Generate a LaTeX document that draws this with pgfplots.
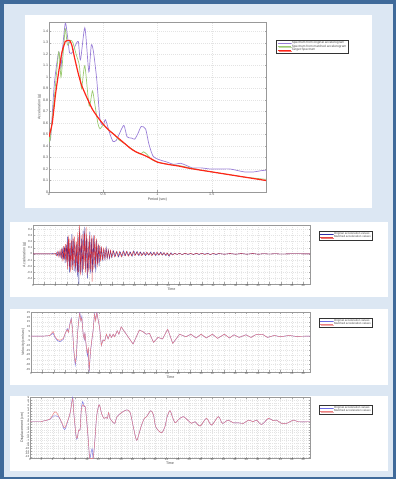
\documentclass[border=0pt]{standalone}
\usepackage{pgfplots}
\pgfplotsset{compat=1.18}
\usepackage{fontspec}
\setmainfont{Liberation Sans}
\usetikzlibrary{shadows}
\definecolor{frameblue}{HTML}{3F6A9A}
\definecolor{bgblue}{HTML}{DCE7F3}
\definecolor{origpurple}{HTML}{9A7FD8}
\definecolor{matchgreen}{HTML}{9CCB72}
\definecolor{targetred}{HTML}{FF2418}
\definecolor{thblue}{HTML}{3030A8}
\definecolor{thred}{HTML}{E02424}
\definecolor{thlblue}{HTML}{6C6CE6}
\definecolor{thlred}{HTML}{EE8080}
\pgfplotsset{
  mybase/.style={
    scale only axis, anchor=south west,
    axis line style={gray!80},
    tick style={gray!70, line width=0.3pt},
    major tick length=1.5pt, minor tick length=0pt,
    grid=major,
    major grid style={dashed, dash pattern=on 1pt off 1pt, gray!22, line width=0.3pt},
    minor grid style={dashed, dash pattern=on 1pt off 1pt, gray!14, line width=0.3pt},
    /pgf/number format/assume math mode=true,
    tick label style={font=\fontsize{3.4}{3.6}\selectfont, text=black!70, inner sep=0.6pt},
    label style={font=\fontsize{3.6}{4}\selectfont, text=black!70},
    legend cell align=left,
    legend image code/.code={\draw[#1] (0pt,0pt) -- (13pt,0pt);},
    legend style={draw=black!80, fill=white, line width=0.3pt,
      drop shadow={shadow xshift=0.8pt, shadow yshift=-0.8pt, opacity=0.6},
      font=\fontsize{3.1}{3.3}\selectfont, text=black!70,
      inner xsep=1pt, inner ysep=0.4pt, row sep=-1pt,
      nodes={inner sep=0.5pt}, anchor=north west},
  },
  thbase/.style={
    mybase, xmin=0, xmax=49.2, xtick={0,2,...,48}, minor x tick num=1,
    grid=both,
    xlabel={Time}, xlabel style={yshift=3pt},
    ylabel style={yshift=-3pt},
    tick label style={font=\fontsize{2.9}{3}\selectfont},
    legend style={font=\fontsize{2.9}{3.1}\selectfont},
  }
}
\begin{document}
\begin{tikzpicture}
\fill[frameblue] (0,0) rectangle (396pt,479pt);
\fill[bgblue] (4pt,2pt) rectangle (393pt,475pt);
\fill[white] (25pt,271pt) rectangle (372pt,464pt);
\fill[white] (10pt,182pt) rectangle (388pt,257pt);
\fill[white] (10pt,94pt) rectangle (388pt,170pt);
\fill[white] (10pt,8pt) rectangle (388pt,83pt);

% ---------------- Spectrum ----------------
\begin{axis}[mybase, at={(49pt,287pt)}, width=217pt, height=170pt,
  xmin=0, xmax=2, ymin=0, ymax=1.48,
  xtick={0,0.5,1,1.5}, ytick={0,0.1,...,1.41},
  xlabel={Period (sec)}, ylabel={Acceleration (g)},
  xlabel style={yshift=2pt}, ylabel style={yshift=-2pt},
  tick label style={font=\fontsize{3.6}{3.8}\selectfont},
  legend style={at={(1.046,0.894)}, font=\fontsize{3.2}{3.4}\selectfont}]
\addplot[origpurple, line width=0.7pt, smooth, tension=0.4] coordinates {
(0,0.48)(0.015,0.47)(0.05,0.95)(0.09,1.22)(0.11,1.08)(0.12,1.20)(0.15,1.47)
(0.17,1.36)(0.19,1.21)(0.22,1.22)(0.24,1.27)(0.27,1.31)(0.29,1.15)(0.33,1.43)
(0.36,1.11)(0.37,1.05)(0.39,1.28)(0.41,1.22)(0.44,0.98)(0.47,0.63)(0.50,0.58)
(0.52,0.63)(0.56,0.51)(0.59,0.44)(0.62,0.45)(0.65,0.51)(0.69,0.58)(0.72,0.48)
(0.76,0.47)(0.79,0.46)(0.82,0.51)(0.85,0.57)(0.89,0.55)(0.92,0.42)(0.96,0.31)
(1.02,0.28)(1.09,0.26)(1.15,0.24)(1.21,0.25)(1.27,0.23)(1.32,0.21)(1.40,0.21)
(1.49,0.20)(1.58,0.20)(1.67,0.20)(1.80,0.175)(1.89,0.175)(1.95,0.185)(2.0,0.19)};
\addlegendentry{Spectrum from original accelerogram}
\addplot[matchgreen, line width=0.7pt, smooth, tension=0.4] coordinates {
(0,0.50)(0.01,0.45)(0.05,0.83)(0.09,1.22)(0.11,1.00)(0.13,1.20)(0.15,1.42)
(0.17,1.28)(0.20,1.32)(0.22,1.30)(0.25,1.20)(0.28,1.10)(0.30,0.90)(0.33,1.10)
(0.37,0.75)(0.40,0.88)(0.42,0.78)(0.45,0.60)(0.47,0.55)(0.50,0.58)(0.55,0.54)
(0.60,0.50)(0.65,0.45)(0.70,0.42)(0.77,0.37)(0.84,0.33)(0.87,0.35)(0.90,0.33)
(0.95,0.28)(1.0,0.26)(1.1,0.24)(1.2,0.23)(1.3,0.21)(1.4,0.19)(1.5,0.175)
(1.6,0.16)(1.7,0.145)(1.8,0.13)(1.9,0.12)(2.0,0.11)};
\addlegendentry{Spectrum from matched accelerogram}
\addplot[targetred, line width=1.2pt, smooth, tension=0.3] coordinates {
(0,0.48)(0.03,0.60)(0.06,0.85)(0.09,1.05)(0.12,1.22)(0.15,1.31)(0.17,1.32)
(0.19,1.32)(0.21,1.28)(0.24,1.15)(0.27,1.03)(0.30,0.93)(0.35,0.82)(0.40,0.72)
(0.45,0.65)(0.50,0.59)(0.55,0.54)(0.60,0.50)(0.65,0.46)(0.70,0.42)(0.75,0.38)
(0.80,0.35)(0.90,0.31)(1.0,0.26)(1.1,0.24)(1.2,0.225)(1.3,0.205)(1.4,0.19)
(1.5,0.175)(1.6,0.16)(1.7,0.145)(1.8,0.13)(1.9,0.115)(2.0,0.10)};
\addlegendentry{Target Spectrum}
\end{axis}

% ---------------- Acceleration ----------------
\begin{axis}[thbase, at={(33pt,195pt)}, width=277pt, height=59pt,
  ymin=-0.49, ymax=0.47, ytick={-0.4,-0.3,...,0.41},
  ylabel={Acceleration (g)},
  legend style={at={(1.0325,0.898)}}]
\addplot[thblue, line width=0.35pt] coordinates {
(0,0)(3,0)(3.5,0.005)(4,-0.005)(4.2,0.02)(4.4,-0.03)(4.6,0.04)(4.8,-0.05)(5.0,0.06)
(5.1,-0.08)(5.3,0.10)(5.4,-0.09)(5.6,0.12)(5.7,-0.15)(5.9,0.14)(6.0,-0.12)(6.1,0.28)
(6.2,-0.2)(6.35,0.22)(6.5,-0.3)(6.6,0.18)(6.75,-0.25)(6.9,0.32)(7.0,-0.18)(7.15,0.25)
(7.3,-0.28)(7.45,0.2)(7.6,-0.3)(7.75,0.15)(7.9,-0.38)(8.0,0.3)(8.15,-0.49)(8.3,0.42)
(8.45,-0.3)(8.6,0.25)(8.75,-0.35)(8.9,0.38)(9.05,-0.2)(9.2,0.44)(9.35,-0.25)(9.5,0.3)
(9.65,-0.4)(9.8,0.2)(9.95,-0.28)(10.1,0.36)(10.25,-0.32)(10.4,0.25)(10.55,-0.3)
(10.7,0.3)(10.85,-0.22)(11.0,0.2)(11.15,-0.3)(11.3,0.22)(11.45,-0.18)(11.6,0.15)
(11.75,-0.2)(11.9,0.12)(12.05,-0.1)(12.2,0.1)(12.4,-0.12)(12.6,0.08)(12.8,-0.09)
(13.0,0.1)(13.2,-0.07)(13.4,0.06)(13.6,-0.08)(13.8,0.05)(14.0,-0.06)(14.3,0.05)
(14.6,-0.04)(14.9,0.04)(15.2,-0.05)(15.5,0.03)(15.8,-0.04)(16.1,0.05)(16.4,-0.03)
(16.7,0.04)(17.0,-0.03)(17.3,0.03)(17.6,-0.04)(17.9,0.05)(18.2,-0.02)(18.5,0.04)
(18.8,-0.03)(19.1,0.03)(19.4,-0.02)(19.7,0.03)(20.0,-0.03)(20.3,0.02)(20.6,-0.02)
(20.9,0.03)(21.2,-0.02)(21.5,0.03)(21.8,-0.03)(22.1,0.02)(22.4,-0.02)(22.7,0.03)
(23.0,-0.02)(23.3,0.02)(23.6,-0.03)(23.9,0.01)(24.2,-0.04)(24.5,0.02)(24.8,-0.01)
(25.2,0.01)(25.6,-0.01)(26,0.01)(26.5,-0.01)(27,0.01)(27.5,-0.01)(28,0.005)
(28.5,-0.01)(29,0.01)(29.5,-0.01)(30,0.01)(30.5,-0.005)(31,0.01)(31.5,-0.01)
(32,0.005)(32.5,-0.01)(33,0.005)(34,-0.005)(35,0.005)(36,-0.005)(37,0.005)
(38,-0.005)(39,0.005)(40,-0.005)(41,0.003)(42,-0.003)(43,0.003)(44,-0.003)(46,0.002)(49.2,0)};
\addlegendentry{Original acceleration values}
\addplot[thred, line width=0.35pt, opacity=0.85] coordinates {
(0,0)(3,0)(3.5,-0.005)(4,0.01)(4.2,-0.03)(4.4,0.04)(4.6,-0.05)(4.8,0.06)(5.0,-0.07)
(5.1,0.09)(5.3,-0.12)(5.45,0.13)(5.6,-0.1)(5.75,0.16)(5.9,-0.14)(6.05,0.2)(6.15,-0.25)
(6.3,0.3)(6.45,-0.22)(6.55,0.25)(6.7,-0.3)(6.85,0.22)(7.0,-0.26)(7.1,0.3)(7.25,-0.2)
(7.4,0.28)(7.55,-0.25)(7.7,0.2)(7.85,-0.3)(7.95,0.35)(8.1,-0.3)(8.25,0.47)(8.4,-0.35)
(8.55,0.3)(8.7,-0.3)(8.85,0.32)(9.0,-0.25)(9.15,0.38)(9.3,-0.3)(9.45,0.44)(9.6,-0.35)
(9.75,0.25)(9.9,-0.3)(10.05,0.3)(10.2,-0.25)(10.35,0.3)(10.5,-0.45)(10.65,0.28)
(10.8,-0.25)(10.95,0.3)(11.1,-0.2)(11.25,0.25)(11.4,-0.22)(11.55,0.18)(11.7,-0.15)
(11.85,0.14)(12.0,-0.12)(12.15,0.12)(12.35,-0.1)(12.55,0.1)(12.75,-0.08)(12.95,0.09)
(13.15,-0.08)(13.35,0.07)(13.55,-0.06)(13.75,0.06)(13.95,-0.05)(14.2,0.05)(14.5,-0.05)
(14.8,0.04)(15.1,-0.04)(15.4,0.04)(15.7,-0.05)(16.0,0.04)(16.3,-0.03)(16.6,0.04)
(16.9,-0.04)(17.2,0.03)(17.5,-0.03)(17.8,0.04)(18.1,-0.03)(18.4,0.03)(18.7,-0.02)
(19.0,0.03)(19.3,-0.03)(19.6,0.02)(19.9,-0.02)(20.2,0.03)(20.5,-0.02)(20.8,0.02)
(21.1,-0.03)(21.4,0.02)(21.7,-0.02)(22.0,0.03)(22.3,-0.02)(22.6,0.02)(22.9,-0.02)
(23.2,0.02)(23.5,-0.02)(23.8,0.02)(24.1,-0.03)(24.4,0.01)(24.8,-0.02)(25.2,0.01)
(25.6,-0.01)(26,0.01)(26.5,-0.01)(27,0.01)(27.5,-0.005)(28,0.01)(28.5,-0.01)(29,0.01)
(29.5,-0.005)(30,0.01)(30.5,-0.01)(31,0.005)(31.5,-0.01)(32,0.01)(32.5,-0.005)
(33,0.005)(34,-0.005)(35,0.005)(36,-0.005)(37,0.005)(38,-0.005)(39,0.005)(40,-0.005)
(41,0.003)(42,-0.003)(43,0.003)(44,-0.003)(46,0.002)(49.2,0)};
\addlegendentry{Matched acceleration values}
\end{axis}

% ---------------- Velocity ----------------
\begin{axis}[thbase, at={(31pt,107pt)}, width=279pt, height=60pt,
  ymin=-38, ymax=25.5, ytick={-35,-30,...,25},
  ylabel={Velocity (cm/sec)},
  legend style={at={(1.032,0.9)}}]
\addplot[thlblue, line width=0.4pt] coordinates {
(0,0)(2.2,0)(3.3,0.5)(3.9,3)(4.2,-1)(4.6,-4.5)(5.1,-6)(5.7,-3.5)(6.0,2)(6.4,8)
(6.6,4)(6.85,13)(7.1,19)(7.3,9)(7.55,-16)(7.8,-31)(8.0,-23)(8.2,2)(8.4,17)(8.6,26)
(8.8,16)(8.96,21)(9.2,2)(9.4,-4)(9.5,4)(9.8,-15)(9.95,-21)(10.1,-13)(10.25,-39)
(10.5,-16)(10.7,-6)(10.95,6)(11.2,24)(11.4,17)(11.6,26)(11.8,19)(12.1,9)(12.4,-10)
(12.7,-4)(13.0,-5)(13.3,2)(13.6,-3)(13.9,2)(14.2,-1.4)(14.5,2)(14.75,-0.7)(15.2,5.6)
(15.5,2)(15.9,9.8)(16.8,2)(18.0,-8.4)(19.1,6.3)(19.7,4.9)(20.3,2)(20.9,2.8)(21.6,-6.6)
(22.4,-1.4)(23.2,-3)(24.1,7.3)(25.0,-7.7)(26.2,2)(27.3,-0.7)(28.2,2)(29.1,-2)(30.0,2)
(30.9,-2)(32.0,2)(32.9,-2.4)(34.1,2)(35.0,-2)(35.8,1.4)(36.7,-1.4)(37.9,1.4)(38.8,-1.4)
(39.6,1.4)(40.8,2)(41.7,-1.4)(42.9,0.7)(44.0,-0.7)(45.5,0.7)(46.7,-0.3)(49.2,0)};
\addlegendentry{Original acceleration values}
\addplot[thlred, line width=0.45pt] coordinates {
(0,0)(2.2,0)(3.3,0.5)(3.9,5)(4.2,0)(4.6,-3.5)(5.1,-4.5)(5.7,-2.5)(6.0,2.5)(6.4,7)
(6.6,4)(6.85,12)(7.1,18)(7.3,9)(7.55,-14)(7.8,-28)(8.0,-21)(8.2,2)(8.4,15)(8.6,24)
(8.8,16)(8.96,19)(9.2,2)(9.4,-3)(9.5,3.8)(9.8,-13)(9.95,-18)(10.1,-12)(10.25,-37)
(10.5,-15)(10.7,-5)(10.95,5.6)(11.2,23)(11.4,16)(11.6,25)(11.8,18)(12.1,9)(12.4,-10)
(12.7,-4)(13.0,-5)(13.3,2)(13.6,-3)(13.9,2)(14.2,-1.4)(14.5,2)(14.75,-0.7)(15.2,5.6)
(15.5,2)(15.9,9.8)(16.8,2)(18.0,-8.4)(19.1,6.3)(19.7,4.9)(20.3,2)(20.9,2.8)(21.6,-6.6)
(22.4,-1.4)(23.2,-3)(24.1,7.3)(25.0,-7.7)(26.2,2)(27.3,-0.7)(28.2,2)(29.1,-2)(30.0,2)
(30.9,-2)(32.0,2)(32.9,-2.4)(34.1,2)(35.0,-2)(35.8,1.4)(36.7,-1.4)(37.9,1.4)(38.8,-1.4)
(39.6,1.4)(40.8,2)(41.7,-1.4)(42.9,0.7)(44.0,-0.7)(45.5,0.7)(46.7,-0.3)(49.2,0)};
\addlegendentry{Matched acceleration values}
\end{axis}

% ---------------- Displacement ----------------
\begin{axis}[thbase, at={(30pt,21pt)}, width=280pt, height=61pt,
  ymin=-13.5, ymax=9.2, ytick={-13,-12,...,9},
  ylabel={Displacement (cm)},
  legend style={at={(1.032,0.869)}}]
\addplot[thlblue, line width=0.4pt, smooth, tension=0.5] coordinates {
(0,0)(2.0,0)(2.3,0.25)(3.5,0.9)(4.1,2.1)(5.0,1.9)(5.6,-0.6)(6.1,-2.9)(6.7,0.6)
(7.1,3.75)(7.5,9.1)(7.7,3.1)(8.1,-5.6)(8.3,-6.25)(8.55,-3.1)(8.8,-2.9)(9.0,4.4)
(9.25,7.5)(9.5,5.6)(9.7,5.6)(9.95,0.6)(10.25,-6.9)(10.5,-13.6)(10.9,-10)(11.1,-13.6)
(11.4,-6.9)(11.7,1.9)(12.1,6.25)(12.3,5.6)(12.6,2.9)(13.0,1.25)(13.35,1.6)(13.6,1.25)
(13.8,3.4)(14.05,1.25)(14.5,0)(14.9,-0.6)(15.3,1.9)(16.1,3.4)(17.0,4.4)(17.6,3.4)
(18.15,-1.9)(18.7,-6.9)(19.0,-5.6)(19.6,-1.25)(20.1,1.25)(20.5,1.9)(21.2,4.1)(21.7,2.5)
(22.1,-1.9)(23.1,-4.1)(23.7,-1.9)(24.1,1.9)(24.6,4.1)(25.0,1.9)(25.5,-0.4)(26.0,0.6)
(26.9,1.9)(27.8,0.4)(28.4,-0.6)(29.0,0)(29.9,-1.6)(31.0,1.25)(31.9,-1.25)(33.1,1.9)
(33.8,-0.6)(34.8,0.6)(35.7,-0.4)(36.6,-0.4)(37.5,-0.6)(38.4,0.6)(39.2,0)(39.8,0.6)
(40.7,-1)(41.9,1.25)(42.7,0.4)(43.3,0.6)(44.2,-0.6)(45.1,-0.6)(46.3,0.6)(47.1,0)(49.2,0)};
\addlegendentry{Original acceleration values}
\addplot[thlred, line width=0.45pt, smooth, tension=0.5] coordinates {
(0,0)(2.0,0)(2.3,0.25)(3.5,1.0)(4.4,3.75)(5.0,2.2)(5.6,-0.4)(6.1,-2.2)(6.7,0.8)
(7.1,3.75)(7.5,8.5)(7.7,3.1)(8.1,-5.2)(8.3,-6.0)(8.55,-3.1)(8.8,-2.9)(9.0,4.0)
(9.25,6.25)(9.5,5.8)(9.7,5.6)(9.95,0.6)(10.25,-6.9)(10.5,-13.6)(10.9,-13.6)(11.1,-13.6)
(11.4,-6.9)(11.7,1.9)(12.1,6.25)(12.3,5.6)(12.6,2.9)(13.0,1.25)(13.35,1.6)(13.6,1.25)
(13.8,3.4)(14.05,1.25)(14.5,0)(14.9,-0.6)(15.3,1.9)(16.1,3.4)(17.0,4.4)(17.6,3.4)
(18.15,-1.9)(18.7,-6.9)(19.0,-5.6)(19.6,-1.25)(20.1,1.25)(20.5,1.9)(21.2,4.1)(21.7,2.5)
(22.1,-1.9)(23.1,-4.1)(23.7,-1.9)(24.1,1.9)(24.6,4.1)(25.0,1.9)(25.5,-0.4)(26.0,0.6)
(26.9,1.9)(27.8,0.4)(28.4,-0.6)(29.0,0)(29.9,-1.6)(31.0,1.25)(31.9,-1.25)(33.1,1.9)
(33.8,-0.6)(34.8,0.6)(35.7,-0.4)(36.6,-0.4)(37.5,-0.6)(38.4,0.6)(39.2,0)(39.8,0.6)
(40.7,-1)(41.9,1.25)(42.7,0.4)(43.3,0.6)(44.2,-0.6)(45.1,-0.6)(46.3,0.6)(47.1,0)(49.2,0)};
\addlegendentry{Matched acceleration values}
\end{axis}
\end{tikzpicture}
\end{document}
